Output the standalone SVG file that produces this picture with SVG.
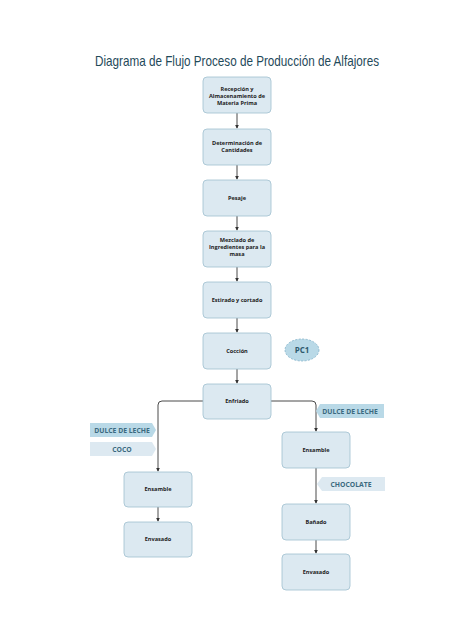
<svg xmlns="http://www.w3.org/2000/svg" width="474" height="632" viewBox="0 0 474 632">
<style>
.box{fill:#dce9f1;stroke:#9fbfcf;stroke-width:0.8}
.t{font-family:"Open Sans","Liberation Sans",sans-serif;font-weight:bold;font-size:5.6px;fill:#222;text-anchor:middle}
.c{fill:none;stroke:#4a4a4a;stroke-width:1}
.tag{font-family:"Open Sans","Liberation Sans",sans-serif;font-weight:bold;font-size:6.8px;fill:#3b6a80;text-anchor:middle}
.dark{fill:#b9d9e7}
.light{fill:#dde9f1}
</style>
<defs>
<marker id="ah" viewBox="0 0 6 6" refX="5" refY="3" markerWidth="4" markerHeight="4" orient="auto">
<path d="M0,0 L6,3 L0,6 z" fill="#333"/>
</marker>
</defs>
<rect width="474" height="632" fill="#fff"/>
<text x="95" y="66" font-family="'Liberation Sans',Arial,sans-serif" font-size="14.5" fill="#1f4a5a" textLength="284" lengthAdjust="spacingAndGlyphs">Diagrama de Flujo Proceso de Producción de Alfajores</text>
<g id="connectors">
<path class="c" d="M237,113 V128" marker-end="url(#ah)"/>
<path class="c" d="M237,165 V179" marker-end="url(#ah)"/>
<path class="c" d="M237,216 V230" marker-end="url(#ah)"/>
<path class="c" d="M237,267 V281" marker-end="url(#ah)"/>
<path class="c" d="M237,318 V332" marker-end="url(#ah)"/>
<path class="c" d="M237,369 V383" marker-end="url(#ah)"/>
<path class="c" d="M203,401 H162 Q158,401 158,405 V471" marker-end="url(#ah)"/>
<path class="c" d="M271,401 H312 Q316,401 316,405 V431" marker-end="url(#ah)"/>
<path class="c" d="M158,507 V521" marker-end="url(#ah)"/>
<path class="c" d="M316,468 V503" marker-end="url(#ah)"/>
<path class="c" d="M316,540 V553" marker-end="url(#ah)"/>
</g>
<g id="n1"><rect class="box" x="203" y="77" width="68" height="36" rx="4"/><text class="t" x="237" y="91">Recepción y</text><text class="t" x="237" y="98">Almacenamiento de</text><text class="t" x="237" y="105">Materia Prima</text></g>
<g id="n2"><rect class="box" x="203" y="129" width="68" height="36" rx="4"/><text class="t" x="237" y="145">Determinación de</text><text class="t" x="237" y="152">Cantidades</text></g>
<g id="n3"><rect class="box" x="203" y="180" width="68" height="36" rx="4"/><text class="t" x="237" y="200">Pesaje</text></g>
<g id="n4"><rect class="box" x="203" y="231" width="68" height="36" rx="4"/><text class="t" x="237" y="242">Mezclado de</text><text class="t" x="237" y="249">Ingredientes para la</text><text class="t" x="237" y="256">masa</text></g>
<g id="n5"><rect class="box" x="203" y="282" width="68" height="36" rx="4"/><text class="t" x="237" y="302">Estirado y cortado</text></g>
<g id="n6"><rect class="box" x="203" y="333" width="68" height="36" rx="4"/><text class="t" x="237" y="353">Cocción</text></g>
<g id="pc1"><ellipse cx="302" cy="350" rx="17" ry="11" fill="#b9d9e7" stroke="#7fb0c8" stroke-width="0.8" stroke-dasharray="2,1.5"/><text x="302" y="353" font-family="'Open Sans','Liberation Sans',sans-serif" font-weight="bold" font-size="8" fill="#2e5a6e" text-anchor="middle">PC1</text></g>
<g id="n7"><rect class="box" x="203" y="384" width="68" height="35" rx="4"/><text class="t" x="237" y="403">Enfriado</text></g>
<g id="n8"><rect class="box" x="124" y="472" width="68" height="35" rx="4"/><text class="t" x="158" y="491">Ensamble</text></g>
<g id="n9"><rect class="box" x="124" y="522" width="68" height="35" rx="4"/><text class="t" x="158" y="541">Envasado</text></g>
<g id="n10"><rect class="box" x="282" y="432" width="68" height="36" rx="4"/><text class="t" x="316" y="452">Ensamble</text></g>
<g id="n11"><rect class="box" x="282" y="504" width="68" height="36" rx="4"/><text class="t" x="316" y="524">Bañado</text></g>
<g id="n12"><rect class="box" x="282" y="554" width="68" height="36" rx="4"/><text class="t" x="316" y="574">Envasado</text></g>
<g id="tag1"><path class="dark" d="M320,404 H384 V418 H320 L316,411 z"/><text class="tag" x="350" y="413.5">DULCE DE LECHE</text></g>
<g id="tag2"><path class="dark" d="M90,423 H152 L156,430 L152,437 H90 z"/><text class="tag" x="122" y="432.5">DULCE DE LECHE</text></g>
<g id="tag3"><path class="light" d="M90,442 H152 L156,449 L152,456 H90 z"/><text class="tag" x="122" y="451.5">COCO</text></g>
<g id="tag4"><path class="light" d="M322,477 H385 V491 H322 L317,484 z"/><text class="tag" x="351" y="486.5">CHOCOLATE</text></g>
</svg>
